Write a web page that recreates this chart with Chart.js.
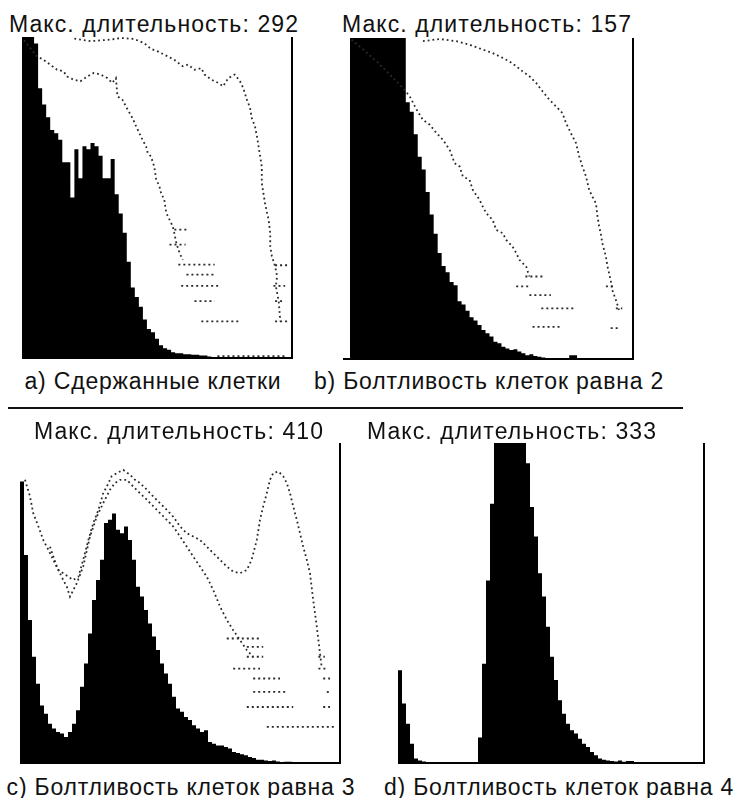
<!DOCTYPE html>
<html>
<head>
<meta charset="utf-8">
<script src="https://cdn.jsdelivr.net/npm/chart.js@4"></script>
<style>
  body { margin: 0; background: #fff; }
  #page { position: relative; width: 733px; height: 798px; overflow: hidden; background: #fff; }
  canvas { position: absolute; }
  .txt { position: absolute; font-family: "Liberation Sans", Arial, sans-serif; font-size: 23px; line-height: 23px;
         letter-spacing: 0.8px; color: #111; white-space: nowrap; transform: translate(-50%, -50%); }
  .ttl { letter-spacing: 1.1px; }
  #sep { position: absolute; left: 8px; top: 407px; width: 675px; height: 2px; background: #111; }
</style>
</head>
<body>
<div id="page">
  <canvas id="chartA" style="left:22px; top:37px;" width="273" height="324"></canvas>
  <canvas id="chartB" style="left:343px; top:38px;" width="293" height="324"></canvas>
  <canvas id="chartC" style="left:20px; top:443px;" width="323" height="323"></canvas>
  <canvas id="chartD" style="left:398px; top:443px;" width="309" height="323"></canvas>

  <div class="txt ttl" style="left:154px; top:24px;">Макс. длительность: 292</div>
  <div class="txt ttl" style="left:487px; top:24px;">Макс. длительность: 157</div>
  <div class="txt" style="left:153px; top:381px;">a) Сдержанные клетки</div>
  <div class="txt" style="left:489px; top:381px;">b) Болтливость клеток равна 2</div>
  <div id="sep"></div>
  <div class="txt ttl" style="left:179px; top:431px;">Макс. длительность: 410</div>
  <div class="txt ttl" style="left:512px; top:431px;">Макс. длительность: 333</div>
  <div class="txt" style="left:181px; top:787px;">c) Болтливость клеток равна 3</div>
  <div class="txt" style="left:559px; top:787px;">d) Болтливость клеток равна 4</div>
</div>
<script>
// histogram heights, % of panel height, one value per bin (values above 100 are cut off at the top)
const binsA = 67;
const histA = [150, 140, 130, 120, 98, 84, 79, 75, 71, 70, 68, 61, 61, 50, 65, 56, 66, 65, 67, 66,
               63, 56, 56, 62, 51, 45, 39, 30, 22, 19, 16, 12, 9, 8, 6, 4, 3, 2.6, 1.8, 1.5,
               1.5, 1.2, 1.2, 1.0, 1, 0.8, 0.8, 0.5, 0.3];
const binsB = 71;
const histB = [160, 155, 150, 145, 140, 135, 130, 126, 122, 118, 115, 112, 109, 106, 103, 80, 77, 70, 63, 59,
               52, 45, 39, 33, 29, 27, 24, 23, 18, 17, 15, 13, 12, 10.6, 9, 8, 7, 5.4, 4.9, 3.8,
               3.3, 2.8, 3, 2.3, 1.8, 1.2, 1.5, 0.9, 0.7, 0.5, 0.3, 0.2, 0, 0.2, 0, 0, 1.2];
const binsC = 80;
const histC = [99.5, 88, 65, 44.7, 33.2, 24.8, 18, 15.4, 12.3, 10.8, 9.7, 9.2, 8.1, 9.7, 12.3, 16.5, 23.8, 31.1, 40.5, 50.9,
               57.2, 63.5, 75, 76, 78, 72.9, 71.8, 73.9, 69.7, 63.5, 55.1, 52, 47.8, 43.6, 39.5, 35.3, 31.1, 28, 24.8, 20.7,
               17, 16, 14.4, 13.4, 11.8, 10.8, 9.7, 10.2, 6.6, 6, 5.5, 5.5, 5, 4.5, 3.4, 3.1, 2.7, 2.4, 1.9, 1.6,
               1, 1, 0.8, 0.6, 0.8, 0.5, 0.3, 0.4];
const binsD = 76.5;
const histD = [75, 29, 18.6, 12.3, 6, 1.4, 0.8, 0.5, 0, 0, 0, 0, 0, 0, 0, 0, 0, 0, 0, 0,
               0, 8, 31, 57, 81, 140, 150, 155, 150, 140, 130, 120, 110, 93.7, 80, 70.8, 59.3, 52, 42.6, 33.2,
               25.9, 19.6, 15.4, 12.3, 10.2, 9.2, 7.6, 6, 5, 3.4, 2.4, 1.4, 1, 0.8, 0.6, 0.5, 0.8, 0.4, 0.6];

// dotted curves: [bin, %] pairs
const curveA1 = [[13, 99.5], [17, 98.7], [22, 99.2], [24.5, 99.7], [27.8, 99.4], [30.3, 98.1], [32, 96.3], [33.7, 95.5],
  [35.3, 94.5], [37.8, 92.9], [39.9, 90.9], [41.2, 91.4], [42.8, 89.8], [44.5, 90.3], [45.3, 88.3], [47, 86.7],
  [48.7, 85.7], [49.9, 84.6], [51.2, 87.2], [52.8, 88.3], [54.1, 86.2], [54.9, 84.1], [55.8, 80.5], [56.6, 77.9],
  [57, 74.8], [57.8, 72.2], [58.3, 69.1], [58.7, 65.9], [59.1, 62.8], [59.5, 59.7], [59.5, 54.5], [59.9, 51.4],
  [60.3, 48.3], [60.8, 45.2], [61.2, 43.1], [61.6, 38.9], [61.6, 34.8], [62, 31.7], [62.8, 28.6], [63.3, 25.4],
  [63, 22.3], [63.7, 17.7], [64.1, 11.4]];
const curveA2 = [[0.5, 99], [3.7, 94], [5.3, 92.9], [7, 91.4], [8.7, 89.8], [10.3, 89.3], [11.2, 87.7], [12.8, 86.7],
  [14.5, 86.2], [16.2, 87.7], [17.8, 88.8], [19.5, 88.3], [21.2, 87.2], [22.4, 85.7], [23.3, 87.2], [23.7, 81.5],
  [24.9, 80.5], [26.2, 77.4], [27.4, 74.8], [28.3, 72.2], [29.1, 70.1], [29.9, 68], [30.8, 65.9], [31.2, 63.9],
  [32, 62.8], [32.8, 59.7], [33.3, 55.6], [34.1, 53.5], [34.5, 51.4], [35.3, 49.3], [35.8, 45.2], [36.6, 43.1],
  [37.4, 41], [37.8, 38.9], [38.3, 35.8], [39.1, 32.7], [39.9, 30.6]];
const curveB1 = [[18.3, 99], [22.5, 99.7], [26.7, 99], [30, 97.9], [33.3, 96.4], [35.8, 95.3], [38.3, 93.8], [40, 92.7],
  [41.7, 91.2], [43.3, 89.6], [45, 88.1], [46.7, 86], [48.3, 83.4], [50, 80.8], [51.7, 78.7], [53.3, 76.6],
  [54.2, 73.5], [55.4, 70.4], [56.7, 67.3], [57.5, 63.1], [58.3, 60], [59.2, 56.9], [60, 52.7], [60.8, 50.6],
  [61.7, 48.5], [62.1, 44.4], [62.5, 41.3], [62.9, 39.2], [63.3, 36.1], [63.75, 34], [64.2, 31.9], [64.6, 28.8],
  [65, 26.7], [65.4, 24.6], [65.8, 21.5], [66.7, 18.4], [67.5, 15.3]];
const curveB2 = [[0.4, 99.5], [3.3, 96.4], [6.7, 92.7], [10, 88.6], [13.3, 84.4], [15, 81.8], [16.7, 77.7], [18.3, 74.5],
  [20, 73], [21.7, 70.4], [23.3, 68.3], [25, 65.2], [26.25, 61], [27.5, 60], [28.3, 56.9], [30, 55.8],
  [30.8, 52.7], [32.5, 49.6], [33.3, 47.5], [34.2, 45.4], [35.8, 43.3], [36.7, 40.2], [38.3, 39.2], [39.2, 37.1],
  [40.8, 35], [41.7, 33], [42.5, 30.9], [44.2, 28.8], [45, 25.7]];
const curveC1 = [[1.25, 88.5], [2.5, 83.3], [3.3, 78.1], [4.6, 73.9], [5.8, 69.7], [7.1, 66.6], [8.3, 63.5], [9.6, 60.3],
  [10.8, 59.3], [12.1, 58.2], [13.3, 57.2], [14.6, 58.2], [15.8, 63.5], [17.1, 69.7], [18.3, 74.9], [19.6, 79.1],
  [20.8, 84.3], [21.7, 86.4], [22.9, 89.6], [24.2, 90.6], [25.8, 91.6], [27.5, 90.1], [28.75, 88.5], [30, 87.5],
  [31.7, 85.4], [33.3, 83.3], [35, 81.2], [36.7, 79.1], [38.3, 77], [40, 73.9], [41.7, 71.8], [43.3, 70.8],
  [45, 69.7], [46.7, 67.6], [48.3, 65.6], [50, 63.5], [51.7, 61.4], [53.3, 59.8], [55, 59.3], [56.7, 60.3],
  [57.9, 63.5], [59.2, 69.7], [60, 76], [60.8, 80.2], [61.7, 84.3], [62.5, 88.5], [63.3, 90.6], [64.6, 91.1],
  [65.8, 89.6], [66.7, 87.5], [67.5, 84.3], [68.3, 80.2], [69.2, 76], [70, 71.8], [70.8, 67.6], [71.7, 63.5],
  [72.5, 59.3], [72.9, 55.1], [73.3, 50.9], [73.75, 46.8], [74.2, 42.6], [74.6, 38.4], [75, 34.2], [75.4, 30.1]];
const curveC2 = [[7.5, 67.6], [9.2, 61.4], [10.8, 57.2], [11.7, 55.1], [12.5, 52], [14.2, 56.2], [15.8, 61.4], [17.5, 70.8],
  [19.2, 77], [20.8, 81.2], [22.5, 85.4], [23.75, 87.5], [25, 88.5], [26.7, 88.5], [28.3, 86.4], [30, 84.3],
  [31.7, 82.3], [34.2, 79.1], [36.7, 76], [38.3, 73.9], [40, 70.8], [41.7, 67.6], [43.3, 64.5], [45, 61.4],
  [46.7, 58.2], [48.3, 54.1], [50, 48.9], [51.7, 44.7], [53.3, 41.5], [55, 38.4], [56.7, 35.3], [58.3, 33.2]];

// dotted horizontal rows in the lower right: [%, from bin, to bin]
const rowsA = [[40, 37.8, 41.2], [35.3, 36.6, 40.6], [29.1, 38.8, 47.8], [26, 40.8, 47.8], [22.5, 39.5, 49.1],
  [17.7, 42.8, 47.8], [11.4, 44.5, 53.7], [28.9, 62.8, 65.8], [22.5, 62.4, 65.3], [17.7, 62.8, 65.3],
  [11.4, 62.8, 65.8], [0.6, 48.5, 65.5]];
const rowsB = [[22.6, 64.2, 66.7], [15.8, 66.7, 68.3], [9.6, 65.4, 67.5], [22.6, 41.7, 45], [19.9, 45, 50.4],
  [25.7, 44, 48.3], [15.8, 48, 56.7], [10, 45.8, 53.3]];
const rowsC = [[38.9, 51.7, 60], [36.3, 56.7, 60.8], [33.2, 56.7, 60.8], [33.2, 74.6, 76.2], [29.5, 53.3, 60],
  [29.5, 74.6, 76.7], [26.4, 58.3, 65], [26.4, 75.8, 77.5], [22.2, 58.3, 66.7], [22.2, 76.7, 77.5],
  [17.5, 56.7, 68.3], [17.5, 75.8, 77.5], [11.3, 61.7, 79]];

function dotted(points, dash) {
  return {
    type: 'line',
    data: points.map(p => ({x: p[0], y: p[1]})),
    borderColor: '#2a2a2a',
    borderWidth: 1.8,
    borderDash: dash,
    pointRadius: 0,
    fill: false,
    tension: 0
  };
}

// the histogram as a filled step outline: each bin holds its height from its left edge to the next one
function histogram(hist) {
  const pts = hist.map((v, i) => ({x: i, y: v}));
  pts.push({x: hist.length, y: hist[hist.length - 1]});
  return {
    type: 'line',
    data: pts,
    stepped: 'after',
    fill: 'origin',
    backgroundColor: '#000',
    borderWidth: 0,
    pointRadius: 0
  };
}

function makePanel(id, hist, nBins, xMin, curves, rows) {
  const sets = [];
  curves.forEach(c => sets.push(dotted(c, [1.8, 3])));
  rows.forEach(r => sets.push(dotted([[r[1], r[0]], [r[2], r[0]]], [2, 3])));
  sets.push(histogram(hist));
  new Chart(document.getElementById(id), {
    data: { datasets: sets },
    options: {
      responsive: false,
      animation: false,
      events: [],
      layout: { padding: { left: 0, top: 0, right: 3, bottom: 3 } },
      plugins: { legend: { display: false }, tooltip: { enabled: false } },
      scales: {
        x: {
          type: 'linear', min: xMin, max: nBins, offset: false,
          grid: { display: false, drawTicks: false },
          ticks: { display: false },
          border: { display: true, color: '#000', width: 2 }
        },
        y: {
          position: 'right', min: 0, max: 100,
          grid: { display: false, drawTicks: false },
          ticks: { display: false },
          border: { display: true, color: '#000', width: 2 }
        }
      }
    }
  });
}

makePanel('chartA', histA, binsA, 0, [curveA1, curveA2], rowsA);
makePanel('chartB', histB, binsB, -1.75, [curveB1, curveB2], rowsB);
makePanel('chartC', histC, binsC, 0, [curveC1, curveC2], rowsC);
makePanel('chartD', histD, binsD, 0, [], []);
</script>
</body>
</html>
